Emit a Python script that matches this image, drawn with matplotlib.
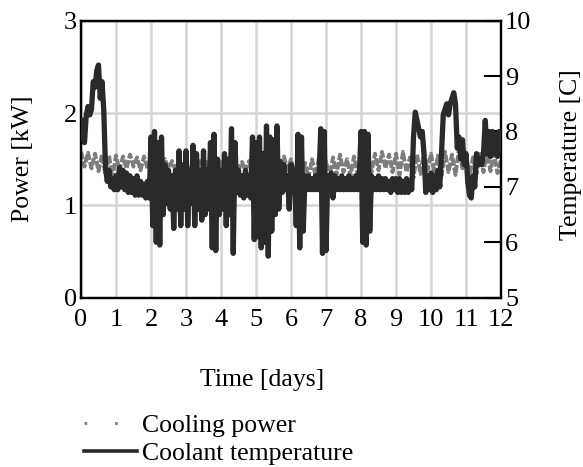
import numpy as np
import matplotlib
matplotlib.use("Agg")
import matplotlib.pyplot as plt
from matplotlib.lines import Line2D

# ---- data ----
# coolant temperature [C], sampled every 0.05 day from 0 to 12
temp_c = [
    8.2, 7.9, 7.8, 8.3, 8.45, 8.3, 8.4, 8.9, 8.8, 9.1, 9.2, 8.6, 8.9, 8.4, 7.35, 7.1, 7.3, 7.0, 7.15, 6.95,
    7.2, 6.95, 7.35, 7.0, 7.3, 6.95, 7.25, 6.9, 7.2, 6.9, 7.15, 6.85, 7.2, 6.85, 7.1, 6.85, 7.05, 6.8, 7.1, 6.8,
    7.9, 6.3, 8.0, 6.0, 7.8, 5.95, 7.9, 6.5, 7.4, 6.7, 7.3, 6.6, 7.2, 6.25, 7.3, 6.6, 7.65, 6.3, 7.4, 6.6,
    7.65, 6.3, 7.3, 6.7, 7.75, 6.3, 7.6, 6.6, 7.3, 6.4, 7.65, 6.5, 7.3, 6.6, 7.8, 5.9, 7.95, 5.85, 7.5, 6.5,
    7.3, 6.6, 7.6, 6.3, 7.5, 6.5, 8.05, 5.8, 7.8, 6.9, 7.3, 6.85, 7.2, 6.8, 7.3, 6.85, 7.2, 6.8, 7.9, 6.05,
    7.8, 6.1, 7.9, 5.9, 7.6, 6.0, 8.1, 5.75, 7.9, 6.2, 7.85, 6.5, 8.1, 6.6, 7.45, 6.9, 7.4, 6.95, 7.2, 6.6,
    7.4, 6.95, 7.3, 6.3, 7.95, 5.9, 7.9, 6.2, 7.2, 6.95, 7.2, 6.95, 7.15, 6.95, 7.2, 6.95, 7.15, 8.05, 5.8, 8.0,
    5.85, 7.2, 6.95, 7.25, 6.8, 7.2, 6.95, 7.15, 6.95, 7.2, 6.95, 7.15, 6.95, 7.2, 6.95, 7.15, 6.95, 7.2, 6.95, 7.15,
    8.0, 6.0, 8.0, 5.95, 7.95, 6.2, 7.2, 6.95, 7.15, 6.95, 7.2, 6.95, 7.15, 6.95, 7.15, 6.95, 7.1, 6.9, 7.15, 6.95,
    7.15, 6.9, 7.15, 6.9, 7.1, 6.9, 7.15, 6.9, 7.1, 6.95, 7.9, 8.35, 8.2, 8.05, 7.9, 8.0, 7.6, 6.9, 7.2, 6.95,
    7.25, 6.9, 7.2, 6.95, 7.3, 7.0, 7.6, 8.3, 8.4, 8.5, 8.3, 8.5, 8.6, 8.7, 8.5, 7.7, 7.9, 7.5, 7.85, 7.4,
    7.6, 7.1, 6.85, 6.8, 7.2, 7.0, 7.6, 7.4, 7.5, 7.4, 7.6, 8.2, 7.6, 8.0, 7.55, 8.0, 7.6, 7.95, 7.55, 8.0,
    7.7,
]
temp_days = np.linspace(0, 12, len(temp_c))

# cooling power [kW], sampled every 0.1 day from 0 to 12
power_kw = [
    1.58, 1.42, 1.57, 1.40, 1.56, 1.37, 1.55, 1.33, 1.54, 1.30,
    1.54, 1.38, 1.53, 1.40, 1.55, 1.42, 1.52, 1.38, 1.53, 1.40,
    1.50, 1.38, 1.49, 1.36, 1.50, 1.40, 1.48, 1.37, 1.49, 1.38,
    1.48, 1.36, 1.47, 1.38, 1.48, 1.36, 1.47, 1.39, 1.48, 1.37,
    1.47, 1.36, 1.48, 1.40, 1.46, 1.38, 1.47, 1.37, 1.48, 1.36,
    1.47, 1.38, 1.48, 1.37, 1.52, 1.40, 1.55, 1.42, 1.53, 1.38,
    1.50, 1.34, 1.48, 1.32, 1.46, 1.30, 1.50, 1.32, 1.52, 1.35,
    1.48, 1.30, 1.52, 1.33, 1.55, 1.36, 1.50, 1.32, 1.53, 1.34,
    1.50, 1.32, 1.54, 1.36, 1.56, 1.38, 1.58, 1.40, 1.55, 1.36,
    1.56, 1.33, 1.58, 1.36, 1.52, 1.30, 1.55, 1.34, 1.58, 1.38,
    1.56, 1.34, 1.54, 1.32, 1.58, 1.36, 1.55, 1.33, 1.62, 1.40,
    1.55, 1.30, 1.52, 1.34, 1.56, 1.36, 1.58, 1.37, 1.56, 1.35,
    1.50,
]
power_days = np.linspace(0, 12, len(power_kw))

x_ticks = list(range(0, 13))
power_ticks = [0, 1, 2, 3]
temp_ticks = [5, 6, 7, 8, 9, 10]

# ---- figure ----
FONT = "Liberation Serif"
FS = 18.5
TFS = 19
plt.rcParams["font.family"] = [FONT, "DejaVu Serif"]

W, H = 583, 467
fig = plt.figure(figsize=(W / 100, H / 100), dpi=100)
ax = fig.add_axes([81 / W, 1 - 297.7 / H, 420 / W, 277 / H])
ax2 = ax.twinx()

grey = "#7d7d7d"
dark = "#2a2a2a"

ax.plot(power_days, power_kw, color=grey, lw=2.8, ls=(0, (2.0, 0.5)), zorder=2)
ax2.plot(temp_days, temp_c, color=dark, lw=3.8, zorder=3)

ax.set_xlim(0, 12)
ax.set_ylim(0, 3)
ax2.set_ylim(5, 10)
ax.set_xticks(x_ticks)
ax.set_yticks(power_ticks)
ax2.set_yticks(temp_ticks)

ax.grid(True, color="#d4d4d4", lw=1.8)
ax.set_axisbelow(True)

ax.tick_params(axis="y", length=0, labelsize=TFS, pad=3)
ax.tick_params(axis="x", length=0, labelsize=TFS, pad=8)
ax2.tick_params(axis="y", direction="in", length=12, width=1.5, labelsize=TFS, pad=3)

for a in (ax, ax2):
    for s in a.spines.values():
        s.set_linewidth(1.6)
        s.set_color("black")

fig.text(262 / W, 1 - 386 / H, "Time [days]", fontsize=FS, ha="center", va="baseline")
fig.text(23 / W, 1 - 159 / H, "Power [kW]", fontsize=FS, ha="center", va="center", rotation=90)
fig.text(571 / W, 1 - 155 / H, "Temperature [C]", fontsize=FS, ha="center", va="center", rotation=90)

handles = [
    Line2D([], [], color=grey, lw=2.0, ls=(0, (1, 10))),
    Line2D([], [], color=dark, lw=2.6),
]
fig.legend(handles, ["Cooling power", "Coolant temperature"],
           loc="upper left", bbox_to_anchor=(84 / W, 1 - 414 / H), frameon=False,
           fontsize=FS, handlelength=2.05, handletextpad=0.22, labelspacing=0.2,
           borderaxespad=0, borderpad=0)

fig.savefig("out.png", dpi=100)
